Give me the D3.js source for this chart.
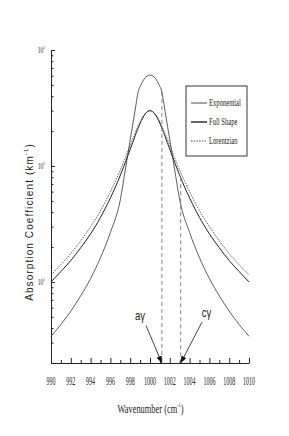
<!DOCTYPE html>
<html>
<head>
<meta charset="utf-8">
<script src="https://cdnjs.cloudflare.com/ajax/libs/d3/7.8.5/d3.min.js"></script>
<style>
body { margin: 0; background: #fff; }
svg { display: block; }
</style>
</head>
<body>
<div id="chart"></div>
<script>
const width = 289
const height = 436

// Exponential (tall, narrow peak)
const expWn  = [990, 991, 992, 993, 994, 995, 996, 997, 997.5, 998, 998.5, 998.8, 999.1, 999.4, 999.7, 1000,
                1000.3, 1000.6, 1000.9, 1001.2, 1001.5, 1002, 1002.5, 1003, 1004, 1005, 1006, 1007, 1008, 1009, 1010]
const expVal = [3.4, 4.3, 5.6, 7.6, 10.7, 16.2, 26.7, 51, 92, 168, 304, 435, 503, 560, 596, 608,
                596, 560, 503, 435, 304, 168, 92, 51, 26.7, 16.2, 10.7, 7.6, 5.6, 4.3, 3.4]

// Full Shape
const fullWn  = [990, 991, 992, 993, 994, 995, 996, 997, 997.5, 998, 998.5, 999, 999.5, 1000,
                 1000.5, 1001, 1001.5, 1002, 1002.5, 1003, 1004, 1005, 1006, 1007, 1008, 1009, 1010]
const fullVal = [10, 12.3, 15.3, 19.7, 26, 36, 53, 83, 107, 139, 182, 233, 280, 300,
                 280, 233, 182, 139, 107, 83, 53, 36, 26, 19.7, 15.3, 12.3, 10]

// Lorentzian
const lorWn  = fullWn
const lorVal = [11.5, 14.1, 17.6, 22.6, 30, 41, 60, 92, 117, 150, 192, 240, 282, 300,
                282, 240, 192, 150, 117, 92, 60, 41, 30, 22.6, 17.6, 14.1, 11.5]

const xTicks = d3.range(990, 1011, 2)
const xMinor = d3.range(991, 1010, 2)
const yTicks = [10, 100, 1000]
const yMinor = [2, 3, 4, 5, 6, 7, 8, 9, 20, 30, 40, 50, 60, 70, 80, 90, 200, 300, 400, 500, 600, 700, 800, 900]

// dashed markers: position and top value
const markWn  = [1001.2, 1003.1]
const markTop = [435, 80]

// annotations
const labels   = ["a", "c"]
const labelWn  = [999.0, 1005.7]
const labelVal = [4.7, 5.0]
const arrowWn0  = [999.6, 1005.25]
const arrowVal0 = [4.2, 4.5]

const legNames = ["Exponential", "Full Shape", "Lorentzian"]

const svg = d3.select("#chart")
              .append("svg")
              .attr("width", width)
              .attr("height", height)

const x = d3.scaleLinear().domain([990, 1010]).range([51, 249])
const y = d3.scaleLog().domain([2, 1000]).range([363, 50])

const serif = "'Liberation Serif', 'Times New Roman', serif"
const sans = "'Liberation Sans', Arial, sans-serif"

svg.append("defs")
   .append("marker")
   .attr("id", "head")
   .attr("viewBox", "0 0 10 10")
   .attr("refX", 10)
   .attr("refY", 5)
   .attr("markerWidth", 7)
   .attr("markerHeight", 7)
   .attr("markerUnits", "userSpaceOnUse")
   .attr("orient", "auto")
   .append("path")
   .attr("d", "M0,1 L10,5 L0,9 z")
   .attr("fill", "#111")

// x axis
svg.append("g")
   .attr("transform", "translate(0,363)")
   .call(d3.axisBottom(x).tickValues(xTicks).tickSizeInner(-5).tickSizeOuter(0).tickFormat(""))
svg.append("g")
   .attr("transform", "translate(0,363)")
   .call(d3.axisBottom(x).tickValues(xMinor).tickSizeInner(-3).tickSizeOuter(0).tickFormat(""))
   .select(".domain").remove()

// x tick labels, condensed
svg.append("g")
   .selectAll("text")
   .data(xTicks)
   .enter()
   .append("text")
   .attr("transform", d => `translate(${x(d)},385) scale(0.5,1)`)
   .attr("text-anchor", "middle")
   .attr("font-family", serif)
   .attr("font-size", 12)
   .attr("fill", "#222")
   .text(d => d)

// y axis
svg.append("g")
   .attr("transform", "translate(51,0)")
   .call(d3.axisLeft(y).tickValues(yTicks).tickSizeInner(-4).tickSizeOuter(0).tickFormat(""))
svg.append("g")
   .attr("transform", "translate(51,0)")
   .call(d3.axisLeft(y).tickValues(yMinor).tickSizeInner(-2.5).tickSizeOuter(0).tickFormat(""))
   .select(".domain").remove()

svg.selectAll(".domain, .tick line").attr("stroke", "#222")

// y tick labels, condensed
yTicks.forEach(d => {
  const t = svg.append("text")
               .attr("transform", `translate(45,${y(d) + 3}) scale(0.7,1)`)
               .attr("text-anchor", "end")
               .attr("font-family", serif)
               .attr("font-size", 8)
               .attr("fill", "#222")
  t.append("tspan").text("10")
  t.append("tspan").text(Math.round(Math.log10(d))).attr("font-size", 5).attr("dy", -4)
})

// axis titles
const yt = svg.append("text")
              .attr("transform", "translate(33,222) rotate(-90)")
              .attr("text-anchor", "middle")
              .attr("font-family", sans)
              .attr("font-size", 10)
              .attr("letter-spacing", 1.1)
              .attr("fill", "#222")
yt.append("tspan").text("Absorption Coefficient (km")
yt.append("tspan").text("-1").attr("font-size", 6).attr("dy", -5)
yt.append("tspan").text(")").attr("dy", 5)

const xt = svg.append("text")
              .attr("transform", "translate(150.5,413) scale(0.7,1)")
              .attr("text-anchor", "middle")
              .attr("font-family", serif)
              .attr("font-size", 12)
              .attr("fill", "#222")
xt.append("tspan").text("Wavenumber (cm")
xt.append("tspan").text("-1").attr("font-size", 6).attr("dy", -6)
xt.append("tspan").text(")").attr("dy", 6)

// curves
const line = d3.line()
               .x(d => x(d[0]))
               .y(d => y(d[1]))
               .curve(d3.curveMonotoneX)

svg.append("path")
   .datum(d3.zip(lorWn, lorVal))
   .attr("d", line)
   .attr("fill", "none")
   .attr("stroke", "#333")
   .attr("stroke-width", 0.8)
   .attr("stroke-dasharray", "1.5,1.2")

svg.append("path")
   .datum(d3.zip(fullWn, fullVal))
   .attr("d", line)
   .attr("fill", "none")
   .attr("stroke", "#222")
   .attr("stroke-width", 1)

svg.append("path")
   .datum(d3.zip(expWn, expVal))
   .attr("d", line)
   .attr("fill", "none")
   .attr("stroke", "#333")
   .attr("stroke-width", 0.8)

// dashed markers
svg.selectAll(".mark")
   .data(d3.zip(markWn, markTop))
   .enter()
   .append("line")
   .attr("class", "mark")
   .attr("x1", d => x(d[0]))
   .attr("x2", d => x(d[0]))
   .attr("y1", d => y(d[1]))
   .attr("y2", y(2))
   .attr("stroke", "#777")
   .attr("stroke-width", 0.9)
   .attr("stroke-dasharray", "4,3")

// arrows and labels
svg.selectAll(".arrow")
   .data(d3.range(labels.length))
   .enter()
   .append("line")
   .attr("class", "arrow")
   .attr("x1", i => x(arrowWn0[i]))
   .attr("y1", i => y(arrowVal0[i]))
   .attr("x2", i => x(markWn[i]))
   .attr("y2", y(2))
   .attr("stroke", "#111")
   .attr("stroke-width", 0.8)
   .attr("marker-end", "url(#head)")

svg.selectAll(".lab")
   .data(d3.range(labels.length))
   .enter()
   .append("text")
   .attr("class", "lab")
   .attr("transform", i => `translate(${x(labelWn[i])},${y(labelVal[i])}) scale(0.8,1)`)
   .attr("text-anchor", "middle")
   .attr("font-family", sans)
   .attr("font-size", 12)
   .attr("fill", "#222")
   .text(i => labels[i] + "γ")

// legend
const legend = svg.append("g").attr("id", "legend")
legend.append("rect")
      .attr("x", 186)
      .attr("y", 86)
      .attr("width", 61)
      .attr("height", 70)
      .attr("fill", "#fff")
      .attr("stroke", "#222")
      .attr("stroke-width", 0.9)

const legDash = [null, null, "1.5,1.2"]
const legWidth = [0.8, 1.4, 0.8]
legNames.forEach((n, i) => {
  const yy = 103 + i * 19
  legend.append("line")
        .attr("x1", 191).attr("x2", 207)
        .attr("y1", yy).attr("y2", yy)
        .attr("stroke", "#222")
        .attr("stroke-width", legWidth[i])
        .attr("stroke-dasharray", legDash[i])
  legend.append("text")
        .attr("transform", `translate(209,${yy + 3}) scale(0.66,1)`)
        .attr("font-family", serif)
        .attr("font-size", 10)
        .attr("fill", "#222")
        .text(n)
})
</script>
</body>
</html>
